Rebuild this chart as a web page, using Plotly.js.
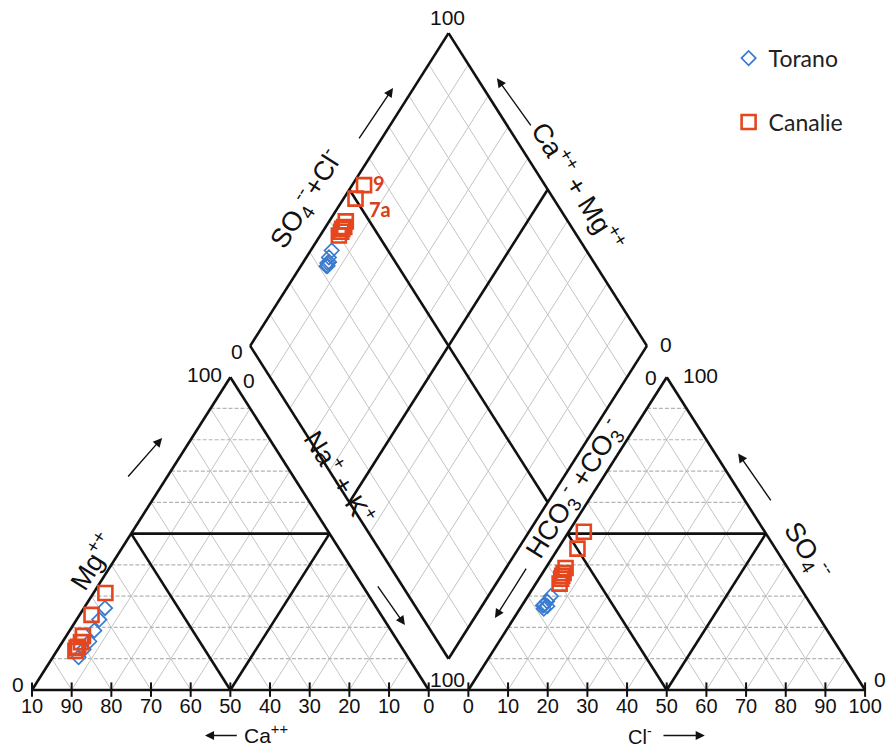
<!DOCTYPE html>
<html><head><meta charset="utf-8">
<script src="https://cdn.plot.ly/plotly-3.0.1.min.js"></script>
<style>html,body{margin:0;padding:0;background:#fff;} #chart{width:894px;height:748px;}</style>
</head><body><div id="chart"></div>
<script>
// ---------- DATA (meq %) ----------
const seriesNames = ['Torano', 'Canalie'];
// Torano samples
const toranoCa  = [68.5, 71.8, 74.8, 77.8, 80.5, 83.0];
const toranoMg  = [26.2, 22.5, 19.0, 15.5, 13.0, 10.5];
const toranoCl  = [5.8, 5.7, 5.5, 5.3, 6.5, 6.0];
const toranoSO4 = [30.0, 28.3, 27.2, 27.0, 26.8, 26.0];
// Canalie samples
const canalieCa  = [66.0, 73.0, 78.5, 80.0, 81.5, 82.8, 82.0];
const canalieMg  = [31.0, 24.0, 17.3, 15.3, 13.8, 12.5, 13.5];
const canalieCl  = [3.8, 4.9, 5.0, 5.3, 5.6, 6.0, 5.4];
const canalieSO4 = [50.6, 45.2, 39.0, 37.4, 35.6, 34.0, 36.5];
const canalieLabels = ['9', '7a', '', '', '', '', ''];
// tick labels
const caTickVals = [100, 90, 80, 70, 60, 50, 40, 30, 20, 10, 0];
const caTickText = ['10', '90', '80', '70', '60', '50', '40', '30', '20', '10', '0'];
const clTickVals = [0, 10, 20, 30, 40, 50, 60, 70, 80, 90, 100];
const clTickText = ['0', '10', '20', '30', '40', '50', '60', '70', '80', '90', '100'];

// ---------- Piper geometry ----------
const S3 = Math.sqrt(3) / 2;
const GAP = 10;
function cat(ca, mg) { return [100 - ca - mg / 2, mg * S3]; }
function an(cl, so4) { return [100 + GAP + cl + so4 / 2, so4 * S3]; }
function dia(nk, a) { return [(nk + 100 + GAP + a) / 2, S3 * (100 + GAP + a - nk)]; }

function piperPoints(ca, mg, cl, so4) {
  const x = [], y = [];
  for (let i = 0; i < ca.length; i++) {
    const nk = 100 - ca[i] - mg[i];
    const a = cl[i] + so4[i];
    const p1 = cat(ca[i], mg[i]), p2 = an(cl[i], so4[i]), p3 = dia(nk, a);
    x.push(p1[0], p2[0], p3[0]); y.push(p1[1], p2[1], p3[1]);
  }
  return {x, y};
}

function seg(o, p, q) { o.x.push(p[0], q[0], null); o.y.push(p[1], q[1], null); }

const gSolid = {x: [], y: []}, gDash = {x: [], y: []}, black = {x: [], y: []}, ticks = {x: [], y: []};
for (let k = 10; k < 100; k += 10) {
  seg(gDash, cat(100 - k, k), cat(0, k));
  seg(gSolid, cat(k, 0), cat(k, 100 - k));
  seg(gSolid, cat(100 - k, 0), cat(0, 100 - k));
  seg(gDash, an(0, k), an(100 - k, k));
  seg(gSolid, an(k, 0), an(k, 100 - k));
  seg(gSolid, an(100 - k, 0), an(0, 100 - k));
  seg(gSolid, dia(k, 0), dia(k, 100));
  seg(gSolid, dia(0, k), dia(100, k));
}
// outlines
seg(black, cat(100, 0), cat(0, 100)); seg(black, cat(0, 100), cat(0, 0));
seg(black, cat(50, 50), cat(0, 50)); seg(black, cat(50, 50), cat(50, 0)); seg(black, cat(0, 50), cat(50, 0));
seg(black, an(0, 0), an(0, 100)); seg(black, an(0, 100), an(100, 0));
seg(black, an(0, 50), an(50, 50)); seg(black, an(0, 50), an(50, 0)); seg(black, an(50, 50), an(50, 0));
seg(black, dia(0, 0), dia(100, 0)); seg(black, dia(100, 0), dia(100, 100));
seg(black, dia(100, 100), dia(0, 100)); seg(black, dia(0, 100), dia(0, 0));
seg(black, dia(50, 0), dia(50, 100)); seg(black, dia(0, 50), dia(100, 50));
seg(black, cat(100, 0), an(100, 0));
caTickVals.forEach(v => { const x = cat(v, 0)[0]; seg(ticks, [x, -1.9], [x, 2.1]); });
clTickVals.forEach(v => { const x = an(v, 0)[0]; seg(ticks, [x, -1.9], [x, 2.1]); });

const tor = piperPoints(toranoCa, toranoMg, toranoCl, toranoSO4);
const can = piperPoints(canalieCa, canalieMg, canalieCl, canalieSO4);

const RED = '#E5461E', BLUE = '#3A7BD0', INK = '#111111';
const FONT = 'Liberation Sans Narrow, Liberation Sans, Arial, sans-serif';
const FONT2 = 'Liberation Sans, Arial, sans-serif';

const traces = [
  {x: gSolid.x, y: gSolid.y, mode: 'lines', line: {color: '#c4c4c4', width: 1}, hoverinfo: 'skip', showlegend: false},
  {x: gDash.x, y: gDash.y, mode: 'lines', line: {color: '#b4b4b4', width: 1.2, dash: '4px,2px'}, hoverinfo: 'skip', showlegend: false},
  {x: black.x, y: black.y, mode: 'lines', line: {color: INK, width: 2.6}, hoverinfo: 'skip', showlegend: false},
  {x: ticks.x, y: ticks.y, mode: 'lines', line: {color: INK, width: 2}, hoverinfo: 'skip', showlegend: false},
  {x: caTickVals.map(v => cat(v, 0)[0]), y: caTickVals.map(() => -4.9), text: caTickText, mode: 'text',
   textfont: {family: FONT, size: 20, color: INK}, hoverinfo: 'skip', showlegend: false},
  {x: clTickVals.map(v => an(v, 0)[0]), y: clTickVals.map(() => -4.9), text: clTickText, mode: 'text',
   textfont: {family: FONT, size: 20, color: INK}, hoverinfo: 'skip', showlegend: false},
  {name: seriesNames[0], x: tor.x, y: tor.y, mode: 'markers', legendgroup: 'a',
   marker: {symbol: 'diamond-open', size: 11, color: BLUE, line: {width: 1.7, color: BLUE}}},
  {name: seriesNames[1], x: can.x, y: can.y, mode: 'markers', legendgroup: 'b',
   marker: {symbol: 'square-open', size: 14, color: RED, line: {width: 2.6, color: RED}}}
];

function txt(x, y, t, ang, size) {
  return {x, y, xref: 'x', yref: 'y', text: t, showarrow: false, textangle: ang || 0,
          font: {family: FONT2, size: size || 20, color: INK}, xanchor: 'center', yanchor: 'middle'};
}
function arrow(x0, y0, x1, y1) {
  return {x: x1, y: y1, ax: x0, ay: y0, xref: 'x', yref: 'y', axref: 'x', ayref: 'y', text: '',
          showarrow: true, arrowhead: 2, arrowsize: 1.3, arrowwidth: 1.4, arrowcolor: INK, standoff: 0};
}
const A = -57.7;
const annotations = [
  txt(-3.6, 1.6, '0', 0, 21), txt(43.4, 87.3, '100', 0, 21), txt(54.6, 85.6, '0', 0, 21),
  txt(104.7, 2.9, '100', 0, 21), txt(156.0, 86.6, '0', 0, 21), txt(168.6, 87.1, '100', 0, 21),
  txt(213.8, 2.9, '0', 0, 21), txt(51.6, 93.8, '0', 0, 21), txt(104.7, 186.2, '100', 0, 21),
  txt(159.8, 95.6, '0', 0, 21),
  txt(58.9, -12.3, 'Ca<sup>++</sup>', 0, 21), txt(153.3, -12.6, 'Cl<sup>-</sup>', 0, 20),
  arrow(52.0, -12.6, 43.6, -12.6), arrow(158.8, -12.6, 169.6, -12.6),
  txt(15.0, 35.6, 'Mg<sup>++</sup>', A, 27), arrow(23.9, 58.7, 32.8, 69.8),
  txt(77.8, 59.0, 'Na<sup>+</sup> + K<sup>+</sup>', -A, 27), arrow(86.9, 29.1, 94.0, 18.0),
  txt(69.0, 136.0, 'SO<sub>4</sub><sup>--</sup>+Cl<sup>-</sup>', A, 27), arrow(82.2, 152.3, 91.0, 166.7),
  txt(137.8, 139.4, 'Ca<sup>++</sup> + Mg<sup>++</sup>', -A, 27), arrow(126.0, 155.9, 117.2, 169.4),
  txt(136.7, 55.6, 'HCO<sub>3</sub><sup>-</sup> +CO<sub>3</sub><sup>-</sup>', A, 27), arrow(124.8, 34.0, 116.7, 19.9),
  txt(195.6, 38.6, 'SO<sub>4</sub><sup>--</sup>', -A, 27), arrow(186.5, 52.1, 178.0, 65.5)
];
// sample labels, placed from the data
const labShift = {'9': [15, 2], '7a': [24, -10]};
canalieLabels.forEach((t, i) => {
  if (!t) return;
  const p = dia(100 - canalieCa[i] - canalieMg[i], canalieCl[i] + canalieSO4[i]);
  annotations.push({x: p[0], y: p[1], xref: 'x', yref: 'y', text: '<b>' + t + '</b>', showarrow: false,
    xanchor: 'center', yanchor: 'middle', xshift: labShift[t][0], yshift: labShift[t][1],
    font: {family: 'Lato, Open Sans, sans-serif', size: 20, color: '#D2401C'}});
});

const layout = {
  width: 894, height: 748,
  margin: {l: 0, r: 0, t: 0, b: 0, pad: 0},
  paper_bgcolor: '#ffffff', plot_bgcolor: '#ffffff',
  xaxis: {range: [-8.067, 217.29], visible: false, showgrid: false, zeroline: false, fixedrange: true},
  yaxis: {range: [-16.06, 191.03], visible: false, showgrid: false, zeroline: false, fixedrange: true},
  showlegend: true,
  legend: {x: 0.815, y: 0.951, xanchor: 'left', yanchor: 'top', bgcolor: 'rgba(0,0,0,0)',
           font: {family: 'Lato, Open Sans, sans-serif', size: 23, color: '#222'},
           traceorder: 'grouped', tracegroupgap: 31},
  annotations: annotations,
  hovermode: false
};

Plotly.newPlot('chart', traces, layout, {displayModeBar: false, staticPlot: true});
</script></body></html>
